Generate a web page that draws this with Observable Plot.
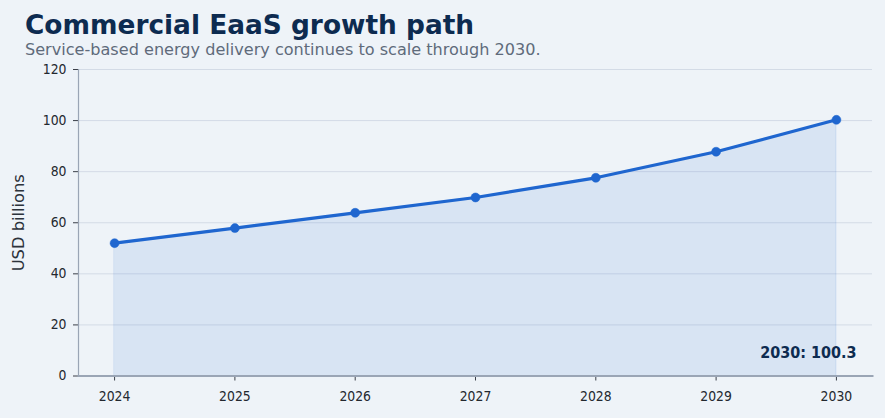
<!DOCTYPE html>
<html>
<head>
<meta charset="utf-8">
<script src="https://cdn.jsdelivr.net/npm/d3@7"></script>
<script src="https://cdn.jsdelivr.net/npm/@observablehq/plot@0.6"></script>
<style>
  html, body { margin: 0; padding: 0; background: #eef3f8; }
  body { width: 885px; height: 418px; overflow: hidden; }
  #header { height: 60px; padding-left: 25px; box-sizing: border-box; }
  #title { padding-top: 10px; font-family: "DejaVu Sans", sans-serif; font-weight: bold; font-size: 26.4px; line-height: 30px; color: #0d2b50; white-space: nowrap; }
  #subtitle { font-family: "DejaVu Sans", sans-serif; font-size: 16.1px; line-height: 20px; color: #5f6b7b; white-space: nowrap; }
  #chart svg { display: block; }
</style>
</head>
<body>
<div id="header">
  <div id="title">Commercial EaaS growth path</div>
  <div id="subtitle">Service-based energy delivery continues to scale through 2030.</div>
</div>
<div id="chart"></div>
<script>
const years = [2024, 2025, 2026, 2027, 2028, 2029, 2030];
const values = [52.0, 57.9, 63.9, 69.9, 77.6, 87.8, 100.3];
const yTicks = [0, 20, 40, 60, 80, 100, 120];
const yLabel = "USD billions";

const data = years.map((year, i) => ({year, value: values[i]}));
const last = data[data.length - 1];
const annotation = `${last.year}: ${last.value.toFixed(1)}`;

const lineColor = "#1f66cf";
const tickFont = "'DejaVu Sans Condensed', 'DejaVu Sans', sans-serif";

const chart = Plot.plot({
  width: 885,
  height: 358,
  marginLeft: 78,
  marginRight: 13,
  marginTop: 9,
  marginBottom: 42.5,
  style: {
    background: "transparent",
    fontFamily: tickFont,
    fontSize: "13.8px",
    color: "#23282f"
  },
  x: {
    domain: [years[0] - 0.3, years[years.length - 1] + 0.3],
    ticks: years,
    tickFormat: d3.format("d")
  },
  y: {
    domain: [yTicks[0], yTicks[yTicks.length - 1]],
    ticks: yTicks
  },
  marks: [
    Plot.gridY(yTicks, {stroke: "#d3dbe6", strokeOpacity: 1, strokeWidth: 1}),
    Plot.areaY(data, {x: "year", y: "value", fill: lineColor, fillOpacity: 0.1, stroke: lineColor, strokeOpacity: 0.12, strokeWidth: 1}),
    Plot.lineY(data, {x: "year", y: "value", stroke: lineColor, strokeWidth: 3.2}),
    Plot.dot(data, {x: "year", y: "value", r: 4.5, fill: lineColor, stroke: lineColor, strokeWidth: 0.5}),
    Plot.axisX({ticks: years, tickFormat: d3.format("d"), tickSize: 5, tickPadding: 10, label: null, stroke: "#3a3f48", fill: "#23282f", fontSize: 13.8, fontFamily: tickFont}),
    Plot.axisY({ticks: yTicks, tickSize: 5, tickPadding: 7, label: null, stroke: "#3a3f48", fill: "#23282f", fontSize: 13.8, fontFamily: tickFont}),
    Plot.frame({anchor: "left", stroke: "#9aa5b5", strokeWidth: 1.2}),
    Plot.frame({anchor: "bottom", stroke: "#9aa5b5", strokeWidth: 2}),
    Plot.text([yLabel], {text: d => d, frameAnchor: "left", dx: -60, rotate: -90, textAnchor: "middle", lineAnchor: "middle", fontFamily: "'DejaVu Sans', sans-serif", fontSize: 16.3, fill: "#2c323b"}),
    Plot.text([annotation], {text: d => d, frameAnchor: "bottom-right", dx: -16, dy: -18.5, textAnchor: "end", lineAnchor: "bottom", fontFamily: tickFont, fontWeight: "bold", fontSize: 16, fill: "#0d2b50"})
  ]
});
document.getElementById("chart").appendChild(chart);
</script>
</body>
</html>
